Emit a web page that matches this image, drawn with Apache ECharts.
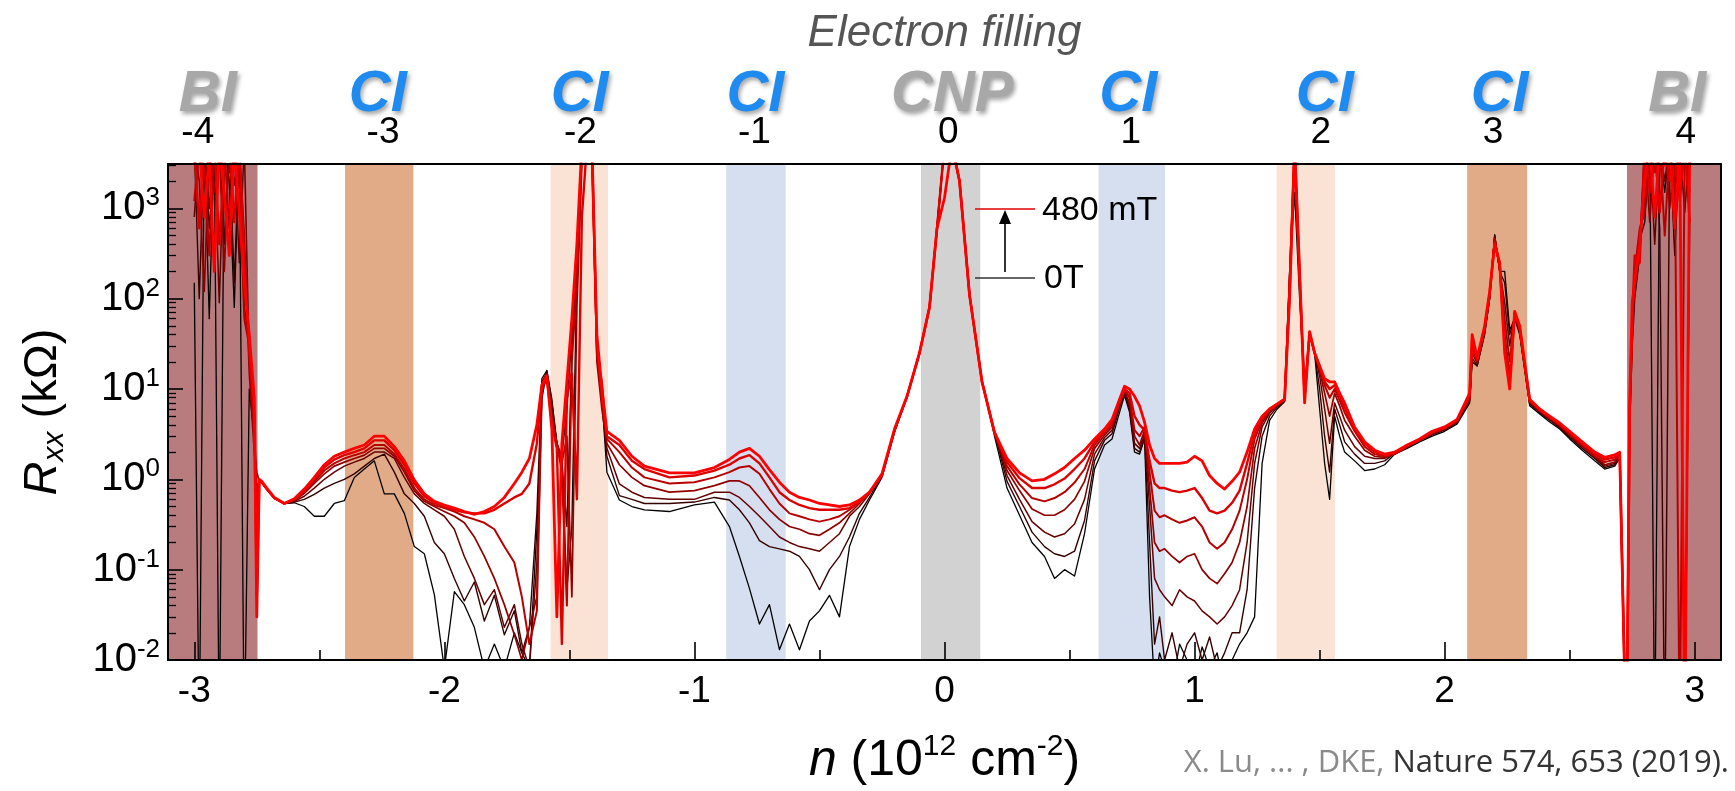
<!DOCTYPE html>
<html>
<head>
<meta charset="utf-8">
<script src="https://cdn.jsdelivr.net/npm/echarts@6/dist/echarts.min.js"></script>
<style>
html,body{margin:0;padding:0;background:#fff;}
#chart{width:1735px;height:791px;}
</style>
</head>
<body>
<div id="chart"></div>
<script>
// ---------------- data ----------------
// carrier density n (10^12 cm^-2)
const nGrid = [
-3.00,-2.98,-2.96,-2.94,-2.92,-2.90,-2.88,-2.86,-2.84,-2.82,-2.80,-2.78,-2.76,-2.75,-2.74,
-2.73,-2.71,-2.68,-2.64,-2.60,-2.56,-2.52,-2.48,-2.44,-2.40,-2.36,-2.32,-2.28,-2.24,-2.20,-2.16,-2.12,-2.08,-2.04,-2.00,-1.96,-1.92,-1.88,-1.84,-1.80,-1.76,-1.72,-1.69,-1.66,-1.63,
-1.61,-1.59,-1.57,-1.55,-1.53,-1.51,-1.49,-1.47,-1.45,-1.43,-1.41,-1.39,-1.37,-1.35,
-1.30,-1.25,-1.20,-1.10,-1.00,-0.92,-0.86,-0.82,-0.78,-0.74,-0.70,-0.66,-0.62,-0.58,-0.54,-0.50,-0.46,-0.42,-0.38,-0.34,-0.30,-0.25,-0.20,-0.15,-0.10,-0.06,-0.03,0.00,0.03,0.06,0.10,0.15,0.20,
0.25,0.30,0.35,0.40,0.44,0.48,0.52,0.56,0.60,0.64,
0.67,0.70,0.72,0.74,0.76,0.78,0.80,0.82,0.84,0.86,0.88,0.91,0.94,0.97,1.00,1.03,1.06,1.09,1.12,1.15,1.18,1.21,1.24,1.27,1.30,1.33,1.36,
1.38,1.40,1.42,1.44,1.46,1.48,1.50,1.52,1.54,1.56,1.58,1.60,
1.64,1.68,1.72,1.76,1.80,1.85,1.90,1.95,2.00,2.05,2.10,2.11,2.13,2.16,2.18,2.20,2.22,2.24,2.26,2.28,2.30,2.34,2.38,2.42,2.46,2.50,2.55,2.60,2.64,2.68,2.70,2.72,
2.73,2.74,2.75,2.76,2.78,2.80,2.82,2.84,2.86,2.88,2.90,2.92,2.94,2.96,2.98
];

// Rxx (kOhm) for each perpendicular field, 0 T -> 480 mT
const fieldNames = ['0 T','80 mT','160 mT','240 mT','320 mT','400 mT','480 mT'];

const rxx0 = [
150,0.001,5000,60,5000,0.001,5000,2000,80,5000,0.001,10,3,0.6,0.95,
0.92,0.78,0.62,0.54,0.55,0.5,0.39,0.39,0.54,0.58,1.05,1.3,1.6,0.69,0.69,0.42,0.18,0.15,0.053,0.008,0.057,0.041,0.023,0.008,0.015,0.008,0.02,0.012,0.008,0.28,
7.7,16,7.7,2.5,1.5,0.06,0.3,200,5000,5000,5000,30,8,1.2,
0.59,0.5,0.46,0.44,0.52,0.56,0.3,0.14,0.062,0.025,0.041,0.013,0.025,0.013,0.027,0.035,0.052,0.03,0.18,0.36,0.59,1.05,3.3,8.2,25,80,600,5000,5000,2000,110,12,3.0,
0.8,0.4,0.2,0.14,0.08,0.1,0.085,0.25,1.3,2.4,
2.8,5.5,8.5,5.5,2.0,1.9,2.8,0.05,0.005,0.012,0.008,0.005,0.015,0.01,0.006,0.014,0.008,0.012,0.005,0.01,0.015,0.02,0.03,1.5,4.5,6.0,7.2,
200,1500,100,10,40,25,6,1.5,0.6,5,3,2.0,
1.6,1.25,1.3,1.45,1.9,2.2,2.6,3.0,3.4,4.1,7,20,18,40,100,510,200,200,45,60,40,6.5,5.3,4.3,3.6,2.8,2.1,1.6,1.3,1.4,1.7,0.006,
0.006,6,40,150,450,700,5000,0.001,5000,1500,5000,300,5000,0.001,800
];
const rxx80 = [
5000,100,5000,600,3000,5000,400,5000,150,5000,80,35,6,0.3,0.95,
0.92,0.78,0.62,0.54,0.56,0.6,0.68,0.8,0.9,1.0,1.15,1.4,1.7,1.9,1.2,0.69,0.54,0.39,0.2,0.15,0.08,0.045,0.073,0.027,0.052,0.019,0.035,0.012,0.023,0.42,
13,16,7,2.5,1.6,0.3,25,200,5000,5000,5000,25,7,1.8,
0.66,0.6,0.54,0.54,0.56,0.63,0.59,0.46,0.33,0.21,0.18,0.17,0.16,0.14,0.1,0.06,0.1,0.14,0.23,0.42,0.63,1.1,3.4,8.2,25,80,600,5000,5000,2000,110,12,3.3,
0.95,0.5,0.26,0.18,0.15,0.14,0.16,0.35,1.6,2.7,
3.2,6.2,9,6,2.2,2.0,3.0,0.2,0.015,0.03,0.01,0.02,0.008,0.015,0.02,0.01,0.018,0.008,0.012,0.02,0.02,0.06,0.8,3.0,5.0,6.3,7.4,
150,3000,150,8,40,25,10,3,1.2,6,4,2.6,
1.9,1.5,1.5,1.6,1.95,2.25,2.7,3.1,3.5,4.2,7.5,22,18,42,100,500,200,150,40,62,42,6.8,5.5,4.5,3.7,2.9,2.2,1.7,1.35,1.45,1.75,0.006,
0.006,4,30,100,300,5000,2000,5000,600,0.001,5000,1500,5000,900,5000
];
const rxx160 = [
800,5000,5000,1000,5000,90,5000,2500,5000,250,5000,20,4,0.8,0.95,
0.92,0.78,0.62,0.54,0.57,0.65,0.8,1.0,1.2,1.4,1.55,1.7,2.0,2.0,1.7,1.05,0.69,0.54,0.46,0.39,0.28,0.14,0.08,0.041,0.06,0.023,0.041,0.015,0.008,0.12,
12,15,6,2.5,1.8,6,40,300,5000,5000,5000,30,9,2.2,
0.89,0.72,0.63,0.6,0.6,0.72,0.72,0.63,0.5,0.39,0.3,0.23,0.2,0.18,0.17,0.16,0.2,0.25,0.39,0.5,0.69,1.1,3.4,8.2,25,80,600,5000,5000,2000,110,12,3.3,
1.1,0.6,0.34,0.26,0.23,0.25,0.32,0.6,1.9,2.9,
3.5,6.5,9.5,6.5,2.5,2.2,3.2,0.5,0.08,0.06,0.05,0.04,0.06,0.05,0.045,0.035,0.03,0.025,0.03,0.04,0.06,0.2,1.5,3.8,5.4,6.5,7.5,
120,5000,180,9,42,25,14,6,2.5,7,5,3.5,
2.3,1.8,1.7,1.7,2.0,2.3,2.7,3.2,3.6,4.3,7.5,25,19,44,105,480,210,90,30,65,44,7.0,5.6,4.6,3.8,3.0,2.3,1.75,1.4,1.5,1.8,0.006,
0.006,5,50,180,500,1200,5000,400,5000,2000,5000,800,5000,3000,5000
];
const rxx240 = [
5000,2000,120,5000,1500,5000,200,5000,1800,5000,500,15,2,1.2,0.95,
0.92,0.78,0.62,0.54,0.58,0.7,0.9,1.15,1.4,1.55,1.7,1.85,2.2,2.2,1.8,1.2,0.75,0.57,0.5,0.44,0.39,0.33,0.23,0.14,0.08,0.041,0.019,0.01,0.023,0.05,
10,13,5,2.5,1.5,3,0.05,80,3000,5000,5000,20,6,2.5,
1.45,1.05,0.85,0.72,0.75,0.85,0.96,0.96,0.85,0.63,0.46,0.36,0.3,0.28,0.25,0.24,0.28,0.33,0.42,0.54,0.72,1.1,3.5,8.2,25,80,600,5000,5000,2000,110,12,3.3,
1.25,0.75,0.47,0.4,0.4,0.46,0.6,0.95,2.2,3.1,
3.8,6.8,9.5,7,3,2.4,3.5,0.8,0.2,0.16,0.17,0.14,0.12,0.14,0.15,0.1,0.08,0.07,0.09,0.12,0.2,0.5,2.2,4.2,5.6,6.6,7.6,
180,4000,160,8,40,25,16,9,5,9,6.5,4.5,
3.0,2.1,1.8,1.75,1.9,2.3,2.7,3.2,3.6,4.4,8,28,20,45,110,460,220,60,20,66,45,7.2,5.7,4.7,3.9,3.1,2.3,1.8,1.45,1.55,1.85,0.006,
0.006,7,70,120,350,5000,700,5000,3000,5000,1000,5000,2500,5000,1500
];
const rxx320 = [
1200,5000,3000,300,5000,3500,5000,600,5000,2000,60,30,3,0.5,0.95,
0.92,0.78,0.62,0.54,0.6,0.72,0.95,1.25,1.5,1.7,1.85,2.0,2.4,2.4,1.9,1.3,0.8,0.6,0.52,0.48,0.44,0.39,0.36,0.33,0.28,0.18,0.12,0.05,0.015,0.035,
10,13,4.5,2.5,1.2,0.04,20,150,5000,5000,5000,25,12,2.8,
2.0,1.35,1.05,0.9,0.93,1.05,1.2,1.35,1.4,1.15,0.78,0.54,0.42,0.39,0.36,0.34,0.36,0.39,0.46,0.56,0.72,1.1,3.5,8.2,25,80,600,5000,5000,2000,110,12,3.3,
1.4,0.88,0.62,0.57,0.62,0.72,0.92,1.3,2.4,3.3,
4.0,7.0,10,8,3.5,3,3.8,1.2,0.45,0.38,0.4,0.36,0.33,0.35,0.38,0.3,0.2,0.17,0.2,0.28,0.45,1.0,2.8,4.5,5.8,6.7,7.7,
150,5000,150,9,42,25,17,11,8,10,7.5,5.5,
3.4,2.3,1.9,1.8,1.9,2.3,2.7,3.3,3.7,4.5,8,30,20,46,110,450,230,40,14,68,46,7.3,5.8,4.8,4.0,3.2,2.4,1.8,1.55,1.65,1.9,0.006,
0.006,5,40,200,600,900,5000,2500,5000,500,5000,4000,0.001,5000,3000
];
const rxx400 = [
5000,600,5000,2500,5000,400,3000,5000,700,5000,300,25,5,0.05,0.95,
0.93,0.78,0.62,0.54,0.6,0.75,1.0,1.35,1.65,1.85,2.0,2.2,2.7,2.7,2.1,1.45,0.9,0.65,0.55,0.5,0.46,0.43,0.42,0.42,0.46,0.54,0.63,0.69,0.9,2.5,
11,14,4,2.2,0.015,8,15,0.6,800,5000,5000,30,8,3,
2.4,1.6,1.3,1.05,1.1,1.25,1.45,1.7,1.85,1.5,1.05,0.72,0.59,0.52,0.48,0.46,0.46,0.46,0.48,0.56,0.72,1.1,3.5,8.2,25,80,600,5000,5000,2000,110,12,3.3,
1.55,1.03,0.8,0.8,0.88,1.02,1.3,1.7,2.6,3.4,
4.3,7.2,10,9,5,4,3.5,1.6,0.9,0.8,0.8,0.75,0.72,0.75,0.8,0.62,0.45,0.42,0.45,0.55,0.75,1.5,3.2,4.8,6.0,6.8,7.7,
120,5000,180,8,42,25,18,12,10,11,8.5,6.2,
3.6,2.5,2.0,1.85,1.95,2.35,2.75,3.3,3.7,4.5,8.5,35,21,48,115,420,240,30,12,70,48,7.5,5.9,4.9,4.1,3.3,2.5,1.9,1.65,1.75,1.95,0.006,
0.006,6,60,300,250,5000,1500,5000,900,5000,2000,5000,1200,5000,700
];
const rxx480 = [
3000,5000,800,4000,200,5000,1500,300,5000,900,150,40,8,0.03,1.0,
0.95,0.8,0.63,0.54,0.61,0.78,1.05,1.45,1.8,2.0,2.2,2.4,3.0,3.0,2.3,1.6,0.98,0.69,0.57,0.52,0.48,0.44,0.41,0.44,0.5,0.63,0.9,1.2,1.7,4,
11,14,3.6,0.03,2.5,12,60,400,5000,5000,5000,40,10,3.4,
2.7,1.8,1.4,1.18,1.18,1.35,1.66,2.0,2.2,1.8,1.28,0.93,0.72,0.63,0.59,0.54,0.52,0.5,0.52,0.59,0.72,1.15,3.6,8.3,25,80,600,1300,5000,2000,110,12,3.3,
1.7,1.18,0.96,1.0,1.15,1.35,1.7,2.1,2.8,3.6,
4.6,7.7,10.7,10,8.3,6.5,4.3,2.4,1.7,1.5,1.5,1.5,1.5,1.55,1.8,1.6,1.1,0.9,0.78,0.95,1.2,2.0,3.6,5.0,6.0,6.8,7.7,
100,5000,200,7,43,25,18,13,12,12,9,7,
3.8,2.6,2.1,1.9,2.0,2.4,2.8,3.4,3.8,4.6,9,40,22,50,120,400,250,25,10,72,50,7.7,6.0,5.0,4.2,3.4,2.6,2.0,1.75,1.86,2.0,0.006,
0.008,8,90,150,400,2000,5000,800,5000,3000,5000,600,5000,0.001,5000
];

// axis ticks / labels
const xTickValues = [-3,-2,-1,0,1,2,3];
const xHalfTicks = [-2.5,-1.5,-0.5,0.5,1.5,2.5];
const yDecades = [-2,-1,0,1,2,3];
const fillingLabels = ['-4','-3','-2','-1','0','1','2','3','4'];
const fillingPos = [-2.986,-2.245,-1.456,-0.760,0.015,0.745,1.505,2.193,2.964];
const stateLabels = ['BI','CI','CI','CI','CNP','CI','CI','CI','BI'];
const statePos = [-2.946,-2.266,-1.459,-0.756,0.031,0.735,1.521,2.220,2.930];

// shaded regions (n ranges) and their kind
const bandRanges = [[-3.105,-2.747],[-2.397,-2.124],[-1.575,-1.345],[-0.873,-0.635],[-0.094,0.143],[0.616,0.882],[1.328,1.561],[2.090,2.330],[2.729,3.105]];
const bandKinds = ['BI','CI3','CI2','CI1','CNP','CI1','CI2','CI3','BI'];

// ---------------- styling ----------------
const FONT = '"Liberation Sans", Arial, Helvetica, sans-serif';
const bandColor = {BI:'#B87C7E', CI3:'#E1AB88', CI2:'#FAE3D5', CI1:'#D6DFEF', CNP:'#D3D2D3'};
const curveColor = ['#000000','#360000','#640000','#900000','#b80000','#dc0000','#ff0000'];
const curveWidth = [1.3,1.4,1.5,1.7,2.0,2.4,2.8];
const stateColor = {BI:'#A8A8A8', CI:'#1F8BF0', CNP:'#A8A8A8'};
const xMin = -3.105, xMax = 3.105, yMin = -2, yMax = 3.49;

const curves = [rxx0, rxx80, rxx160, rxx240, rxx320, rxx400, rxx480];

function idxOf(arr, v){ for (let i=0;i<arr.length;i++){ if (Math.abs(arr[i]-v) < 1e-6) return i; } return -1; }

const minorY = [];
for (let d = -2; d <= 3; d++) {
  for (let k = 2; k <= 9; k++) {
    const v = d + Math.log10(k);
    if (v < yMax) minorY.push(v);
  }
}

const series = [{
  name: 'bands', type: 'line', data: [], z: 1, silent: true,
  markArea: {
    silent: true,
    data: bandRanges.map((r, i) => [
      { xAxis: r[0], itemStyle: { color: bandColor[bandKinds[i]], opacity: 1 } },
      { xAxis: r[1] }
    ])
  }
}];
curves.forEach((arr, ci) => {
  const m = Math.min(arr.length, nGrid.length);
  const data = [];
  for (let i = 0; i < m; i++) data.push([nGrid[i], Math.log10(arr[i])]);
  series.push({
    name: fieldNames[ci], type: 'line', data: data, showSymbol: false, symbol: 'none',
    clip: true, z: 2 + ci, animation: false,
    lineStyle: { color: curveColor[ci], width: curveWidth[ci], join: 'round' },
    emphasis: { disabled: true }
  });
});

const chart = echarts.init(document.getElementById('chart'), null, { renderer: 'canvas' });
chart.setOption({
  backgroundColor: '#ffffff',
  animation: false,
  grid: { left: 168, right: 14, top: 164, bottom: 131, containLabel: false, outerBoundsMode: 'none' },
  xAxis: [
    { // bottom, main
      type: 'value', position: 'bottom', min: xMin, max: xMax, z: 10,
      axisLine: { show: true, onZero: false, lineStyle: { color: '#000', width: 2 } },
      axisTick: { show: true, inside: true, length: 18, customValues: xTickValues, lineStyle: { color: '#000', width: 1.6 } },
      axisLabel: { customValues: xTickValues, formatter: v => String(v), color: '#000', fontSize: 37, fontFamily: FONT, margin: 13 },
      splitLine: { show: false },
      name: '{i|n}{t| (10}{s|12}{t| cm}{s|-2}{t|)}',
      nameLocation: 'middle', nameGap: 72,
      nameTextStyle: {
        color: '#000', fontFamily: FONT,
        rich: {
          i: { fontSize: 50, fontStyle: 'italic', fontFamily: FONT, lineHeight: 58, color: '#000' },
          t: { fontSize: 50, fontFamily: FONT, lineHeight: 58, color: '#000' },
          s: { fontSize: 30, fontFamily: FONT, lineHeight: 30, verticalAlign: 'top', color: '#000' }
        }
      }
    },
    { // top, filling factor
      type: 'value', position: 'top', min: xMin, max: xMax, z: 10,
      axisLine: { show: true, onZero: false, lineStyle: { color: '#000', width: 2 } },
      axisTick: { show: false },
      axisLabel: { customValues: fillingPos, formatter: v => fillingLabels[idxOf(fillingPos, v)], color: '#000', fontSize: 37, fontFamily: FONT, margin: 13 },
      splitLine: { show: false },
      name: 'Electron filling', nameLocation: 'middle', nameGap: 108,
      nameTextStyle: { color: '#555', fontSize: 44, fontStyle: 'italic', fontFamily: FONT }
    },
    { // bottom half-unit minor ticks
      type: 'value', position: 'bottom', min: xMin, max: xMax, z: 10,
      axisLine: { show: false, onZero: false },
      axisTick: { show: true, inside: true, length: 10, customValues: xHalfTicks, lineStyle: { color: '#000', width: 1.6 } },
      axisLabel: { show: false }, splitLine: { show: false }
    },
    { // top state labels
      type: 'value', position: 'top', offset: 36, min: xMin, max: xMax, z: 10,
      axisLine: { show: false, onZero: false },
      axisTick: { show: false },
      axisLabel: {
        customValues: statePos,
        formatter: v => stateLabels[idxOf(statePos, v)],
        color: (v) => stateColor[stateLabels[idxOf(statePos, v)]],
        fontSize: 58, fontWeight: 'bold', fontStyle: 'italic', fontFamily: FONT, margin: 4,
        textShadowColor: 'rgba(0,0,0,0.35)', textShadowBlur: 4, textShadowOffsetX: 2, textShadowOffsetY: 3
      },
      splitLine: { show: false }
    }
  ],
  yAxis: [
    { // left, main
      type: 'value', position: 'left', min: yMin, max: yMax, z: 10,
      axisLine: { show: true, onZero: false, lineStyle: { color: '#000', width: 2 } },
      axisTick: { show: true, inside: true, length: 15, customValues: yDecades, lineStyle: { color: '#000', width: 1.6 } },
      axisLabel: {
        customValues: yDecades, margin: 8,
        formatter: v => '{a|10}{b|' + v + '}',
        rich: {
          a: { fontSize: 40, fontFamily: FONT, color: '#000', lineHeight: 46 },
          b: { fontSize: 26, fontFamily: FONT, color: '#000', lineHeight: 26, verticalAlign: 'top' }
        }
      },
      splitLine: { show: false },
      name: '{i|R}{s|xx}{t| (kΩ)}', nameLocation: 'middle', nameGap: 98, nameRotate: 90,
      nameTextStyle: {
        fontFamily: FONT,
        rich: {
          i: { fontSize: 47, fontStyle: 'italic', fontFamily: FONT, lineHeight: 54, color: '#000' },
          s: { fontSize: 30, fontStyle: 'italic', fontFamily: FONT, lineHeight: 30, verticalAlign: 'bottom', color: '#000' },
          t: { fontSize: 47, fontFamily: FONT, lineHeight: 54, color: '#000' }
        }
      }
    },
    { // left minor ticks
      type: 'value', position: 'left', min: yMin, max: yMax, z: 10,
      axisLine: { show: false, onZero: false },
      axisTick: { show: true, inside: true, length: 8, customValues: minorY, lineStyle: { color: '#000', width: 1.3 } },
      axisLabel: { show: false }, splitLine: { show: false }
    },
    { // right frame
      type: 'value', position: 'right', min: yMin, max: yMax, z: 10,
      axisLine: { show: true, onZero: false, lineStyle: { color: '#000', width: 2 } },
      axisTick: { show: false }, axisLabel: { show: false }, splitLine: { show: false }
    }
  ],
  series: series,
  graphic: [
    { type: 'line', z: 20, shape: { x1: 975, y1: 209, x2: 1035, y2: 209 }, style: { stroke: '#e00000', lineWidth: 1.6 } },
    { type: 'line', z: 20, shape: { x1: 975, y1: 278, x2: 1035, y2: 278 }, style: { stroke: '#333', lineWidth: 1.6 } },
    { type: 'line', z: 20, shape: { x1: 1005, y1: 272, x2: 1005, y2: 222 }, style: { stroke: '#000', lineWidth: 1.6 } },
    { type: 'polygon', z: 20, shape: { points: [[999, 224], [1011, 224], [1005, 210]] }, style: { fill: '#000' } },
    { type: 'text', z: 20, x: 1042, y: 211, style: { text: '480 mT', font: '34px "Liberation Sans", Arial, sans-serif', fill: '#000', verticalAlign: 'middle' } },
    { type: 'text', z: 20, x: 1044, y: 279, style: { text: '0T', font: '34px "Liberation Sans", Arial, sans-serif', fill: '#000', verticalAlign: 'middle' } },
    { type: 'text', z: 20, right: 6, top: 748, style: {
        text: '{g|X. Lu, ... , DKE, }{d|Nature 574, 653 (2019).}',
        rich: {
          g: { fill: '#8a8a8a', fontSize: 31, fontFamily: '"Open Sans", "Noto Sans", sans-serif' },
          d: { fill: '#333333', fontSize: 31, fontFamily: '"Open Sans", "Noto Sans", sans-serif' }
        }
      } }
  ]
});
</script>
</body>
</html>
